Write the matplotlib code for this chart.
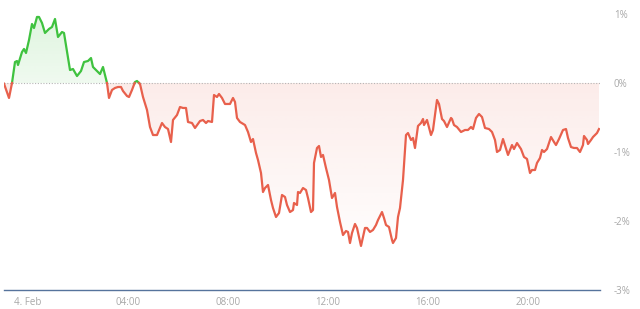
import matplotlib
matplotlib.use("Agg")
import matplotlib.pyplot as plt
import numpy as np
from matplotlib.colors import to_rgb
from matplotlib.path import Path

# hours after midnight of 4 Feb, change in percent
hours = [-0.96, -0.76, -0.64, -0.52, -0.44, -0.40, -0.24, -0.16, -0.08, 0.04,
         0.16, 0.24, 0.36, 0.44, 0.56, 0.68, 0.84, 0.96, 1.08, 1.20,
         1.36, 1.44, 1.68, 1.80, 1.96, 2.12, 2.24, 2.40, 2.52, 2.60,
         2.76, 2.88, 3.00, 3.16, 3.24, 3.36, 3.48, 3.60, 3.72, 3.80,
         3.96, 4.04, 4.16, 4.28, 4.36, 4.48, 4.60, 4.76, 4.88, 5.00,
         5.16, 5.28, 5.36, 5.48, 5.60, 5.72, 5.80, 5.96, 6.08, 6.20,
         6.32, 6.40, 6.56, 6.68, 6.88, 7.00, 7.12, 7.20, 7.36, 7.44,
         7.56, 7.64, 7.76, 7.88, 8.08, 8.20, 8.28, 8.36, 8.48, 8.68,
         8.80, 8.92, 9.00, 9.12, 9.20, 9.32, 9.40, 9.48, 9.60, 9.72,
         9.80, 9.92, 10.04, 10.16, 10.28, 10.36, 10.48, 10.60, 10.64, 10.76,
         10.80, 10.88, 11.00, 11.12, 11.20, 11.32, 11.40, 11.44, 11.56, 11.64,
         11.72, 11.80, 11.92, 12.04, 12.16, 12.28, 12.36, 12.48, 12.60, 12.72,
         12.80, 12.88, 12.96, 13.08, 13.16, 13.32, 13.48, 13.56, 13.68, 13.80,
         13.92, 14.00, 14.16, 14.24, 14.32, 14.44, 14.56, 14.60, 14.72, 14.80,
         14.88, 15.00, 15.12, 15.20, 15.32, 15.40, 15.48, 15.60, 15.72, 15.80,
         15.84, 15.96, 16.12, 16.20, 16.36, 16.44, 16.56, 16.64, 16.76, 16.92,
         16.96, 17.04, 17.16, 17.32, 17.48, 17.60, 17.72, 17.80, 17.92, 18.04,
         18.16, 18.28, 18.44, 18.56, 18.68, 18.76, 18.88, 19.00, 19.20, 19.36,
         19.44, 19.56, 19.72, 19.84, 19.96, 20.08, 20.16, 20.28, 20.36, 20.48,
         20.56, 20.64, 20.76, 20.92, 21.04, 21.12, 21.24, 21.40, 21.52, 21.60,
         21.72, 21.84, 21.96, 22.08, 22.20, 22.24, 22.36, 22.40, 22.52, 22.60,
         22.76, 22.84]
change = [-0.01, -0.217, 0.0, 0.304, 0.319, 0.261, 0.449, 0.493, 0.435, 0.623,
          0.855, 0.797, 0.957, 0.957, 0.870, 0.725, 0.783, 0.812, 0.928, 0.667,
          0.739, 0.725, 0.188, 0.203, 0.101, 0.174, 0.304, 0.319, 0.362, 0.232,
          0.174, 0.130, 0.232, 0.0, -0.217, -0.101, -0.072, -0.058, -0.058, -0.116,
          -0.188, -0.203, -0.101, 0.014, 0.029, -0.014, -0.203, -0.391, -0.638, -0.754,
          -0.754, -0.652, -0.580, -0.638, -0.667, -0.855, -0.536, -0.464, -0.348, -0.362,
          -0.362, -0.565, -0.580, -0.652, -0.551, -0.536, -0.580, -0.551, -0.565, -0.174,
          -0.203, -0.159, -0.217, -0.304, -0.304, -0.217, -0.275, -0.507, -0.565, -0.609,
          -0.710, -0.855, -0.812, -1.014, -1.116, -1.304, -1.580, -1.522, -1.478, -1.696,
          -1.812, -1.942, -1.884, -1.623, -1.652, -1.768, -1.870, -1.841, -1.739, -1.768,
          -1.580, -1.594, -1.522, -1.551, -1.667, -1.870, -1.841, -1.159, -0.942, -0.913,
          -1.072, -1.043, -1.232, -1.406, -1.667, -1.594, -1.797, -2.014, -2.203, -2.145,
          -2.159, -2.319, -2.174, -2.043, -2.101, -2.362, -2.101, -2.101, -2.159, -2.130,
          -2.058, -1.986, -1.870, -1.957, -2.058, -2.087, -2.275, -2.319, -2.246, -1.942,
          -1.812, -1.406, -0.754, -0.725, -0.826, -0.797, -0.942, -0.623, -0.580, -0.522,
          -0.609, -0.536, -0.754, -0.681, -0.246, -0.304, -0.522, -0.551, -0.638, -0.507,
          -0.522, -0.609, -0.638, -0.710, -0.681, -0.681, -0.638, -0.667, -0.507, -0.449,
          -0.493, -0.652, -0.667, -0.710, -0.826, -1.000, -0.971, -0.812, -1.043, -0.899,
          -0.957, -0.870, -0.957, -1.072, -1.101, -1.304, -1.261, -1.261, -1.159, -1.087,
          -0.971, -1.000, -0.957, -0.783, -0.855, -0.899, -0.812, -0.681, -0.667, -0.797,
          -0.928, -0.942, -0.942, -1.000, -0.899, -0.768, -0.826, -0.884, -0.826, -0.783,
          -0.725, -0.667]

tick_hours = [0, 4, 8, 12, 16, 20]
tick_labels = ["4. Feb", "04:00", "08:00", "12:00", "16:00", "20:00"]
pct_ticks = [1, 0, -1, -2, -3]
pct_labels = ["1%", "0%", "-1%", "-2%", "-3%"]

green = "#3fc23f"
red = "#e8604c"

plt.rcParams['font.family'] = ['Open Sans', 'DejaVu Sans']

# insert the zero crossings so the two colours meet on the zero line
xs, ys = [hours[0]], [change[0]]
for i in range(1, len(hours)):
    x0, y0, x1, y1 = hours[i - 1], change[i - 1], hours[i], change[i]
    if y0 * y1 < 0:
        xs.append(x0 + (x1 - x0) * y0 / (y0 - y1))
        ys.append(0.0)
    xs.append(x1)
    ys.append(y1)
xs = np.array(xs)
ys = np.array(ys)

fig = plt.figure(figsize=(6.4, 3.09), dpi=100)
ax = fig.add_axes([4 / 640, 19 / 309, 596 / 640, 276 / 309])


def gradient_fill(mask, color, top, bottom, a_top, a_bottom):
    poly = ax.fill_between(xs, ys, 0, where=mask, interpolate=True, color='none', lw=0)
    path = Path.make_compound_path(*poly.get_paths())
    img = np.zeros((200, 1, 4))
    img[:, 0, :3] = to_rgb(color)
    img[:, 0, 3] = np.linspace(a_top, a_bottom, 200)
    im = ax.imshow(img, aspect='auto', extent=[xs.min(), xs.max(), bottom, top],
                   origin='upper', zorder=1, interpolation='bilinear')
    im.set_clip_path(path, ax.transData)


gradient_fill(ys >= 0, green, 1.0, 0.0, 0.17, 0.08)
gradient_fill(ys <= 0, red, 0.0, -2.4, 0.12, 0.01)

up = np.where(ys >= 0, ys, np.nan)
down = np.where(ys <= 0, ys, np.nan)
ax.plot(xs, up, color=green, lw=1.6, zorder=3, solid_joinstyle='round')
ax.plot(xs, down, color=red, lw=1.6, zorder=3, solid_joinstyle='round')

ax.axhline(0, color='#b5b5b5', lw=0.8, ls=(0, (1, 1.5)), zorder=2)

ax.set_xlim(-0.96, 22.88)
ax.set_ylim(-3, 1)

for s in ['top', 'left', 'right']:
    ax.spines[s].set_visible(False)
ax.spines['bottom'].set_color('#56739c')
ax.spines['bottom'].set_linewidth(1.0)

ax.set_xticks(tick_hours)
ax.set_xticklabels(tick_labels)
ax.yaxis.tick_right()
ax.set_yticks(pct_ticks)
ax.set_yticklabels(pct_labels)
ax.tick_params(axis='x', length=0, pad=5, labelsize=7, labelcolor='#a8a8a8')
ax.tick_params(axis='y', length=0, pad=10, labelsize=7, labelcolor='#a8a8a8')

fig.savefig('out.png', dpi=100)
